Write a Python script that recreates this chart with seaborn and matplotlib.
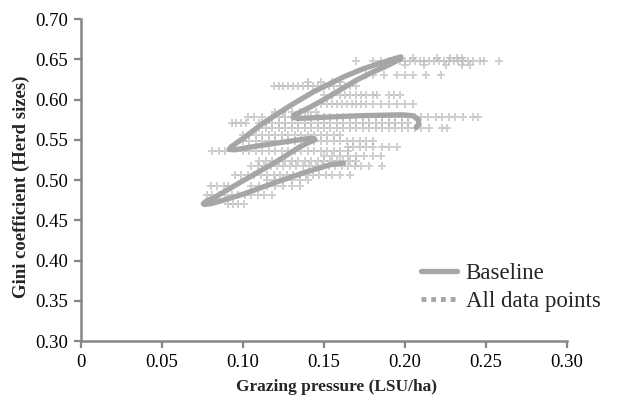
import matplotlib
matplotlib.use('Agg')
import matplotlib.pyplot as plt
import seaborn as sns
import pandas as pd
from matplotlib.lines import Line2D

# ---------------- data ----------------
baseline_x = [0.162, 0.154, 0.139, 0.120, 0.101, 0.088, 0.081, 0.0765, 0.0755, 0.0775, 0.083,
              0.100, 0.120, 0.135, 0.141, 0.1445, 0.144, 0.140, 0.128, 0.108, 0.095, 0.0915,
              0.0925, 0.096, 0.101, 0.112, 0.128, 0.143, 0.150, 0.162, 0.174, 0.186, 0.194, 0.1975,
              0.1975, 0.194, 0.188, 0.180, 0.170, 0.160, 0.150, 0.141, 0.135, 0.1315, 0.1310,
              0.1335, 0.140, 0.150, 0.174, 0.198, 0.2045, 0.208, 0.2085, 0.207]
baseline_y = [0.521, 0.519, 0.510, 0.497, 0.483, 0.475, 0.471, 0.4695, 0.4705, 0.474, 0.479,
              0.499, 0.522, 0.541, 0.547, 0.550, 0.5515, 0.5515, 0.548, 0.542, 0.5375, 0.538,
              0.541, 0.546, 0.553, 0.570, 0.591, 0.609, 0.616, 0.628, 0.638, 0.646, 0.651, 0.653,
              0.651, 0.647, 0.641, 0.634, 0.624, 0.612, 0.600, 0.590, 0.584, 0.5805, 0.578,
              0.5765, 0.577, 0.578, 0.580, 0.581, 0.580, 0.576, 0.570, 0.565]

row_y = [0.652, 0.648, 0.643, 0.630, 0.622, 0.617, 0.605, 0.594, 0.585, 0.578, 0.571,
         0.564, 0.556, 0.549, 0.541, 0.536, 0.530, 0.524, 0.518, 0.506, 0.500, 0.493,
         0.481, 0.470]
row_x = [
    [0.205, 0.220, 0.228, 0.232, 0.235],
    [0.170, 0.180, 0.185, 0.190, 0.193, 0.197, 0.200, 0.203, 0.206, 0.209, 0.212, 0.215,
     0.218, 0.221, 0.224, 0.227, 0.230, 0.233, 0.236, 0.239, 0.242, 0.246, 0.249, 0.258],
    [0.200, 0.212, 0.225, 0.235, 0.240],
    [0.176, 0.180, 0.187, 0.195, 0.200, 0.205, 0.213, 0.222],
    [0.140, 0.148, 0.155, 0.160],
    [0.119, 0.122, 0.125, 0.128, 0.131, 0.134, 0.137, 0.140, 0.143, 0.146, 0.150, 0.153,
     0.156, 0.160, 0.163, 0.166, 0.170],
    [0.150, 0.155, 0.160, 0.163, 0.166, 0.170, 0.173, 0.176, 0.180, 0.183, 0.190, 0.193, 0.197],
    [0.148, 0.152, 0.155, 0.158, 0.161, 0.164, 0.167, 0.170, 0.173, 0.176, 0.180, 0.185,
     0.190, 0.195, 0.200, 0.205],
    [0.120, 0.125, 0.130, 0.135, 0.140, 0.145],
    [0.103, 0.107, 0.112, 0.118, 0.122, 0.126, 0.130, 0.134, 0.138, 0.142, 0.146, 0.150,
     0.154, 0.158, 0.162, 0.166, 0.170, 0.174, 0.178, 0.182, 0.186, 0.190, 0.194, 0.198,
     0.202, 0.206, 0.210, 0.214, 0.219, 0.223, 0.227, 0.231, 0.236, 0.242, 0.245],
    [0.093, 0.096, 0.099, 0.102, 0.110, 0.114, 0.118, 0.122, 0.126, 0.130, 0.134, 0.138,
     0.142, 0.146, 0.150, 0.154, 0.158, 0.162, 0.166, 0.170, 0.174, 0.178, 0.182, 0.186,
     0.190, 0.194, 0.198, 0.202],
    [0.110, 0.114, 0.118, 0.122, 0.126, 0.130, 0.134, 0.138, 0.142, 0.146, 0.150, 0.154,
     0.158, 0.162, 0.166, 0.170, 0.174, 0.178, 0.182, 0.186, 0.190, 0.194, 0.198, 0.202,
     0.206, 0.210, 0.215, 0.223, 0.226],
    [0.100, 0.104, 0.108, 0.112, 0.116, 0.120, 0.124, 0.128, 0.132, 0.136, 0.140, 0.144,
     0.148, 0.152, 0.156, 0.160],
    [0.100, 0.104, 0.108, 0.112, 0.116, 0.120, 0.124, 0.128, 0.132, 0.136, 0.140, 0.144,
     0.148, 0.152, 0.156, 0.160, 0.164, 0.168, 0.172, 0.176, 0.180],
    [0.165, 0.168, 0.172, 0.176, 0.180, 0.186, 0.190, 0.195],
    [0.081, 0.085, 0.089, 0.100, 0.104, 0.108, 0.112, 0.116, 0.120, 0.124, 0.128, 0.132,
     0.136, 0.140, 0.144, 0.148, 0.152, 0.156, 0.160, 0.165],
    [0.150, 0.155, 0.160, 0.165, 0.170, 0.175, 0.180, 0.185],
    [0.110, 0.114, 0.118, 0.122, 0.126, 0.130, 0.134, 0.138, 0.142, 0.146, 0.150, 0.154,
     0.158, 0.162, 0.166, 0.170],
    [0.105, 0.109, 0.113, 0.117, 0.121, 0.125, 0.129, 0.133, 0.137, 0.141, 0.145, 0.149,
     0.153, 0.157, 0.161, 0.165, 0.169, 0.173, 0.178, 0.186],
    [0.095, 0.099, 0.103, 0.107, 0.111, 0.115, 0.119, 0.123, 0.127, 0.131, 0.135, 0.139,
     0.143, 0.147, 0.151, 0.155, 0.160, 0.166],
    [0.115, 0.120, 0.125, 0.130, 0.135, 0.140],
    [0.080, 0.084, 0.088, 0.091, 0.105, 0.110, 0.115, 0.120, 0.125, 0.130, 0.135],
    [0.0775, 0.081, 0.085, 0.089, 0.093, 0.097, 0.101, 0.105, 0.109, 0.113, 0.118],
    [0.091, 0.094, 0.097, 0.1006],
]

x_ticks = [0, 0.05, 0.10, 0.15, 0.20, 0.25, 0.30]
x_tick_labels = ['0', '0.05', '0.10', '0.15', '0.20', '0.25', '0.30']
y_ticks = [0.30, 0.35, 0.40, 0.45, 0.50, 0.55, 0.60, 0.65, 0.70]
y_tick_labels = ['0.30', '0.35', '0.40', '0.45', '0.50', '0.55', '0.60', '0.65', '0.70']

# ---------------- build frames ----------------
pts = pd.DataFrame({
    'x': [x for xs in row_x for x in xs],
    'y': [y for y, xs in zip(row_y, row_x) for _ in xs],
})
base = pd.DataFrame({'x': baseline_x, 'y': baseline_y})

sns.set_theme(style='ticks')
plt.rcParams['font.family'] = ['Liberation Serif', 'DejaVu Serif']

fig = plt.figure(figsize=(6.18, 4.01), dpi=100)
ax = fig.add_axes([0.131, 0.1496, 0.7865, 0.803])

axis_gray = '#868686'
line_gray = '#a6a6a6'
pt_gray = '#b8b8b8'

sns.scatterplot(data=pts, x='x', y='y', marker='P', s=32, color=pt_gray,
                linewidth=0, alpha=0.65, ax=ax, legend=False)
sns.lineplot(data=base, x='x', y='y', sort=False, estimator=None, color=line_gray,
             linewidth=3.8, ax=ax, legend=False,
             solid_capstyle='round', solid_joinstyle='round')

ax.set_xlim(0, 0.30)
ax.set_ylim(0.30, 0.70)
ax.set_xticks(x_ticks)
ax.set_xticklabels(x_tick_labels)
ax.set_yticks(y_ticks)
ax.set_yticklabels(y_tick_labels)

for side in ['top', 'right']:
    ax.spines[side].set_visible(False)
for side in ['left', 'bottom']:
    ax.spines[side].set_color(axis_gray)
    ax.spines[side].set_linewidth(1.8)

ax.tick_params(direction='out', length=5, width=1.6, color=axis_gray,
               labelsize=13.5, labelcolor='black', pad=4)

ax.set_xlabel('Grazing pressure (LSU/ha)', fontsize=12.5, fontweight='bold')
ax.set_ylabel('Gini coefficient (Herd sizes)', fontsize=13.5, fontweight='bold')
ax.xaxis.set_label_coords(0.525, -0.117)
ax.yaxis.set_label_coords(-0.105, 0.478)

handles = [
    Line2D([0], [0], color=line_gray, linewidth=3.8),
    Line2D([0], [0], color=line_gray, linewidth=3.5, linestyle=(0, (1, 1))),
]
ax.legend(handles, ['Baseline', 'All data points'], loc='upper left',
          bbox_to_anchor=(0.648, 0.395), frameon=False, fontsize=16.5,
          handlelength=1.55, handletextpad=0.4, labelspacing=0.3,
          bbox_transform=fig.transFigure)

fig.savefig('out.png', dpi=100)
